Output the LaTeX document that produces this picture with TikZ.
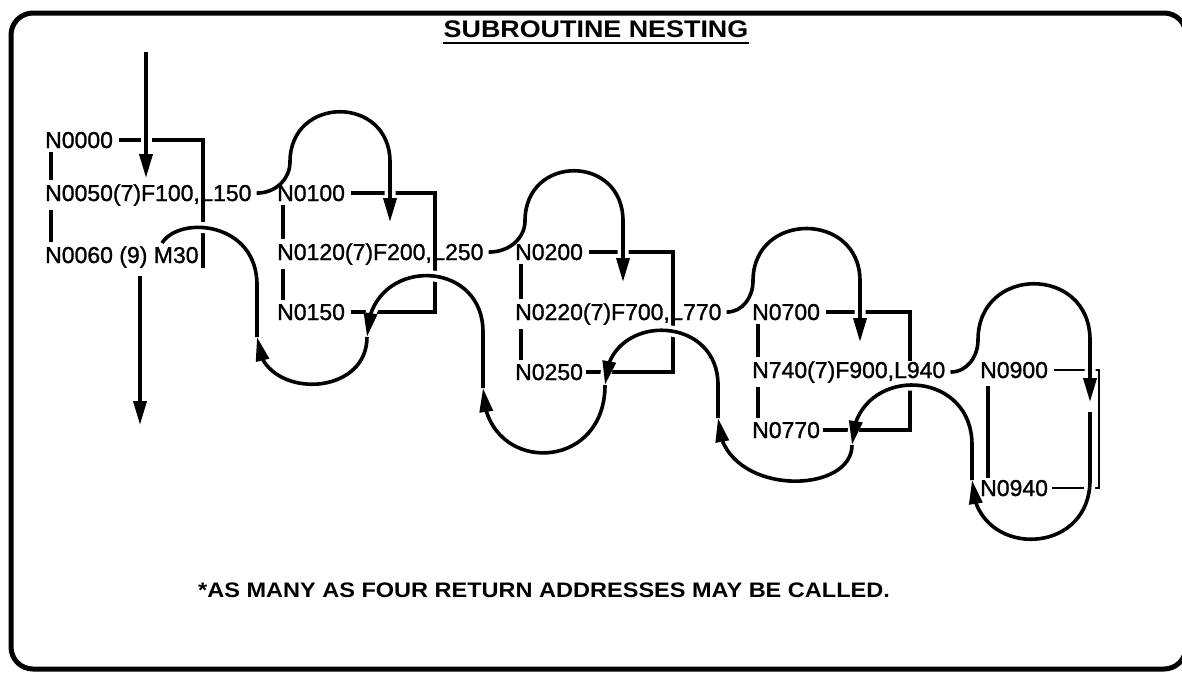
\documentclass[tikz,border=0pt]{standalone}
\usepackage{fontspec}
\setmainfont{Liberation Sans}
\newfontfamily\widefont[FakeStretch=1.12]{Liberation Sans}
\newfontfamily\lblfont[FakeBold=1.2]{Liberation Sans}
\usetikzlibrary{arrows.meta, bending}
\pgfdeclarelayer{fg}
\pgfsetlayers{main,fg}
\tikzset{
  lbl/.style={anchor=base west, inner sep=0pt, font=\lblfont\fontsize{23}{26}\selectfont},
  wire/.style={line width=3.6pt},
  flow/.style={line width=3.6pt, preaction={draw=white, line width=11pt, arrows=-}},
  arr/.style={-{Triangle[length=24pt, width=13pt]}},
}
\begin{document}
\begin{tikzpicture}[x=1pt, y=-1pt]
   \useasboundingbox (0,0) rectangle (1182,673);
   \draw[line width=5pt, rounded corners=22pt] (11,13) rectangle (1186,669);

   \begin{pgfonlayer}{fg}
   \node[anchor=base, inner sep=0pt, font=\widefont\bfseries\fontsize{24}{28}\selectfont] (title) at (596,37) {SUBROUTINE NESTING};
   % main program
   \node[lbl] (n0)   at (45,148) {N0000};
   \node[lbl] (n50)  at (45,201) {N0050(7)F100,};
   \node[lbl] (l150) at (n50.base east) {L150};
   \node[lbl] (n60)  at (45,263) {N0060 (9) M30};
   % first level
   \node[lbl] (n100) at (277,201) {N0100};
   \node[lbl] (n120) at (277,260) {N0120(7)F200,};
   \node[lbl] (l250) at (n120.base east) {L250};
   \node[lbl] (n150) at (277,320) {N0150};
   % second level
   \node[lbl] (n200) at (515,260) {N0200};
   \node[lbl] (n220) at (515,320) {N0220(7)F700,};
   \node[lbl] (l770) at (n220.base east) {L770};
   \node[lbl] (n250) at (515,380) {N0250};
   % third level
   \node[lbl] (n700) at (752,320) {N0700};
   \node[lbl, fill=white] (n740) at (752,378) {N740(7)F900,L940};
   \node[lbl] (n770) at (752,438) {N0770};
   % fourth level
   \node[lbl] (n900) at (980,378) {N0900};
   \node[lbl] (n940) at (980,496) {N0940};
   \node[anchor=base west, inner sep=0pt, font=\widefont\bfseries\fontsize{21}{25}\selectfont] (note) at (198,597) {*AS MANY AS FOUR RETURN ADDRESSES MAY BE CALLED.};
   \end{pgfonlayer}
   \draw[line width=2.8pt] ([yshift=-6pt]title.base west) -- ([yshift=-6pt]title.base east);

   % brackets
   \coordinate (b1) at ([xshift=3pt]l150.base west);
   \coordinate (b2) at ([xshift=3pt]l250.base west);
   \coordinate (b3) at ([xshift=3pt]l770.base west);
   \coordinate (b4) at (910,0);
   \coordinate (b5) at (1099,0);
   \draw[wire] ([xshift=6pt]n0.east) -- (n0.east -| b1) -- (n60.south -| b1);
   \draw[wire] ([xshift=6pt]n100.east) -- (n100.east -| b2) -- (n150.east -| b2) -- ([xshift=6pt]n150.east);
   \draw[wire] ([xshift=6pt]n200.east) -- (n200.east -| b3) -- (n250.east -| b3) -- ([xshift=3pt]n250.east);
   \draw[wire] ([xshift=6pt]n700.east) -- (n700.east -| b4) -- (n770.east -| b4) -- ([xshift=3pt]n770.east);
   \draw[wire, line width=2.4pt] ([xshift=6pt]n900.east) -- (n900.east -| b5) -- (n940.east -| b5) -- ([xshift=4pt]n940.east);

   % steps inside each block
   \draw[wire] ([shift={(6pt,-4pt)}]n0.south west) -- ([shift={(6pt,4pt)}]n50.north west);
   \draw[wire] ([shift={(6pt,-4pt)}]n50.south west) -- ([shift={(6pt,4pt)}]n60.north west);
   \draw[wire] ([shift={(6pt,-4pt)}]n100.south west) -- ([shift={(6pt,4pt)}]n120.north west);
   \draw[wire] ([shift={(6pt,-4pt)}]n120.south west) -- ([shift={(6pt,4pt)}]n150.north west);
   \draw[wire] ([shift={(6pt,-4pt)}]n200.south west) -- ([shift={(6pt,4pt)}]n220.north west);
   \draw[wire] ([shift={(6pt,-4pt)}]n220.south west) -- ([shift={(6pt,4pt)}]n250.north west);
   \draw[wire] ([shift={(6pt,-4pt)}]n700.south west) -- ([shift={(6pt,4pt)}]n740.north west);
   \draw[wire] ([shift={(6pt,-4pt)}]n740.south west) -- ([shift={(6pt,4pt)}]n770.north west);
   \draw[wire] ([shift={(8pt,-8pt)}]n900.south west) -- ([shift={(8pt,18pt)}]n940.south west);

   % start and end of the program
   \coordinate (s0) at (146,52);
   \coordinate (s1) at (146,178);
   \coordinate (e0) at (140,276);
   \coordinate (e1) at (140,425);
   \draw[flow, arr] (s0) -- (s1);
   \draw[flow, arr] (e0) -- (e1);

   % calls
   \coordinate (a1) at (390,222);
   \coordinate (a2) at (623,282);
   \coordinate (a3) at (860,342);
   \coordinate (a4) at (1090,402);
   \draw[flow, arr] ([xshift=5pt]l150.east) .. controls +(20,0) and +(0,16) .. (290,162)
      .. controls +(0,-67) and +(0,-67) .. (390,162) -- (a1);
   \draw[flow, arr] ([xshift=5pt]l250.east) .. controls +(22,0) and +(0,16) .. (525,221)
      .. controls +(0,-67) and +(0,-67) .. (623,221) -- (a2);
   \draw[flow, arr] ([xshift=5pt]l770.east) .. controls +(16,0) and +(0,16) .. (753,281)
      .. controls +(0,-70) and +(0,-70) .. (860,281) -- (a3);
   \draw[flow, arr] ([xshift=5pt]n740.east) .. controls +(17,0) and +(0,16) .. (978,340)
      .. controls +(0,-75) and +(0,-75) .. (1090,340) -- (a4);

   % returns
   \coordinate (r0) at (1090,412);
   \coordinate (r1) at (972,480);
   \coordinate (r2) at (852,445);
   \coordinate (r3) at (718,418);
   \coordinate (r4) at (605,385);
   \coordinate (r5) at (483,388);
   \coordinate (r6) at (367,337);
   \coordinate (r7) at (257,337);
   \coordinate (r8) at (162,243);
   \draw[flow, arr] (r0) -- (r0 |- r1) .. controls +(0,79) and +(0,79) .. (r1);
   \draw[flow, arr] (r1) -- ++(0,-35) .. controls +(0,-80) and +(0,-80) .. (r2);
   \draw[flow, arr] (r2) .. controls +(0,52) and +(0,79) .. (r3);
   \draw[flow, arr] (r3) -- ++(0,-33) .. controls +(0,-73) and +(0,-73) .. (r4);
   \draw[flow, arr] (r4) .. controls +(0,90) and +(0,87) .. (r5);
   \draw[flow, arr] (r5) -- ++(0,-56) .. controls +(0,-76) and +(0,-81) .. (r6);
   \draw[flow, arr] (r6) .. controls +(0,63) and +(0,63) .. (r7);
   \draw[flow] (r7) -- ++(0,-52) .. controls +(0,-63) and +(18,-28) .. (r8);
\end{tikzpicture}
\end{document}
